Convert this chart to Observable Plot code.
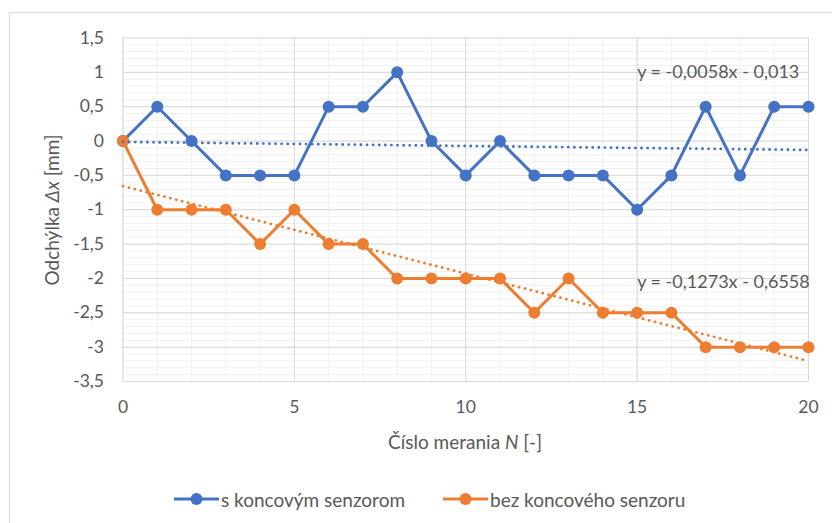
<!DOCTYPE html>
<html><head><meta charset="utf-8">
<script src="https://cdn.jsdelivr.net/npm/d3@7"></script>
<script src="https://cdn.jsdelivr.net/npm/@observablehq/plot@0.6"></script>
<style>
body{margin:0;background:#fff;}
#wrap{position:relative;width:832px;height:523px;overflow:hidden;font-family:Lato,sans-serif;color:#595959;background:#fff;}
#frame{position:absolute;left:9px;top:12px;width:900px;height:600px;border:1px solid #d9d9d9;}
#chart{position:absolute;left:0;top:0;}
.leg{position:absolute;top:489px;height:20px;display:flex;align-items:center;font-size:19px;color:#595959;white-space:nowrap;}
.leg svg{display:block;margin-right:2px;}
</style></head><body>
<div id="wrap"><div id="frame"></div><div id="chart"></div><div id="legend"></div></div>
<script>
// ---- data ----
const measurement = [0,1,2,3,4,5,6,7,8,9,10,11,12,13,14,15,16,17,18,19,20];
const withSensor = [0,0.5,0,-0.5,-0.5,-0.5,0.5,0.5,1,0,-0.5,0,-0.5,-0.5,-0.5,-1,-0.5,0.5,-0.5,0.5,0.5];
const withoutSensor = [0,-1,-1,-1,-1.5,-1,-1.5,-1.5,-2,-2,-2,-2,-2.5,-2,-2.5,-2.5,-2.5,-3,-3,-3,-3];
const seriesNames = ["s koncovým senzorom","bez koncového senzoru"];
const seriesColors = ["#4472C4","#ED7D31"];
const yTicks = [-3.5,-3,-2.5,-2,-1.5,-1,-0.5,0,0.5,1,1.5];
const xTicks = [0,5,10,15,20];
const equations = ["y = -0,0058x - 0,013","y = -0,1273x - 0,6558"];
const equationAnchorX = [15, 15];
const equationAnchorY = [1, -2.06];

// ---- tables ----
const rows = [];
[withSensor, withoutSensor].forEach((vals, i) => vals.forEach((v, j) => rows.push({n: measurement[j], v, s: seriesNames[i]})));
const eqRows = equations.map((t, i) => ({t, x: equationAnchorX[i], y: equationAnchorY[i], s: seriesNames[i]}));
const minorY = d3.range(-35, 16).map(d => d / 10);
const minorX = d3.range(0, 21);
const fmt = d => String(d).replace(".", ",");

const W = 832, H = 470;
const marks = [
  Plot.ruleY(minorY, {stroke: "#f0f0f0", strokeWidth: 1}),
  Plot.ruleX(minorX, {stroke: "#f0f0f0", strokeWidth: 1}),
  Plot.ruleY(yTicks, {stroke: "#d9d9d9", strokeWidth: 1}),
  Plot.ruleX(xTicks, {stroke: "#d9d9d9", strokeWidth: 1}),
];
seriesNames.forEach(name => {
  const data = rows.filter(r => r.s === name);
  marks.push(Plot.line(data, {x: "n", y: "v", stroke: "s", strokeWidth: 3}));
  marks.push(Plot.dot(data, {x: "n", y: "v", fill: "s", r: 6}));
});
marks.push(Plot.linearRegressionY(rows, {x: "n", y: "v", z: "s", stroke: "s", strokeWidth: 2.8, strokeDasharray: "0.1,6", strokeLinecap: "round", ci: 0}));
marks.push(Plot.axisY(yTicks, {tickSize: 0, tickPadding: 19, tickFormat: fmt, label: null, fontSize: 17.5}));
marks.push(Plot.axisX(xTicks, {tickSize: 0, tickPadding: 19, tickFormat: fmt, label: null, fontSize: 17.5}));
marks.push(Plot.text(eqRows, {x: "x", y: "y", text: "t", textAnchor: "start", fill: "#595959", fontSize: 18}));

const chart = Plot.plot({
  width: W, height: H,
  marginLeft: 122.5, marginRight: 24, marginTop: 37.5, marginBottom: H - 381,
  x: {domain: [0, 20], label: null},
  y: {domain: [-3.5, 1.5], label: null},
  color: {domain: seriesNames, range: seriesColors},
  style: {fontFamily: "Lato, sans-serif", color: "#595959", background: "transparent", overflow: "visible"},
  marks
});
document.getElementById("chart").appendChild(chart);

const svg = d3.select(chart);
const yl = svg.append("text").attr("transform", "translate(59,210) rotate(-90)")
  .attr("text-anchor", "middle").attr("font-size", 19).attr("fill", "#595959");
yl.append("tspan").text("Odchýlka ");
yl.append("tspan").attr("font-style", "italic").text("Δx");
yl.append("tspan").text(" [mm]");
const xl = svg.append("text").attr("x", 465).attr("y", 449)
  .attr("text-anchor", "middle").attr("font-size", 19).attr("fill", "#595959");
xl.append("tspan").text("Číslo merania ");
xl.append("tspan").attr("font-style", "italic").text("N");
xl.append("tspan").text(" [-]");

// ---- legend ----
const legendLeft = [174, 443];
const legend = d3.select("#legend");
seriesNames.forEach((name, i) => {
  const item = legend.append("div").attr("class", "leg").style("left", legendLeft[i] + "px");
  const s = item.append("svg").attr("width", 45).attr("height", 20);
  s.append("line").attr("x1", 0).attr("x2", 45).attr("y1", 10).attr("y2", 10).attr("stroke", seriesColors[i]).attr("stroke-width", 3);
  s.append("circle").attr("cx", 22.5).attr("cy", 10).attr("r", 6).attr("fill", seriesColors[i]);
  item.append("span").text(name);
});
</script>
</body></html>
